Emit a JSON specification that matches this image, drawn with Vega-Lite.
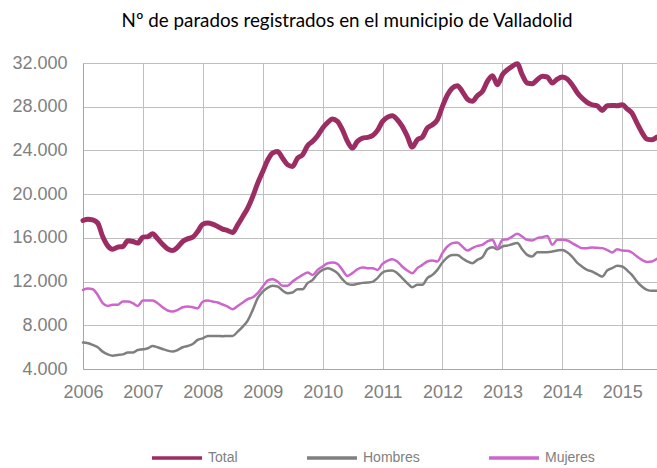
{
  "$schema": "https://vega.github.io/schema/vega-lite/v6.json",
  "width": 574,
  "height": 306,
  "autosize": {"type": "none"},
  "padding": {"left": 83, "top": 63, "right": 0, "bottom": 99},
  "background": "white",
  "title": {
    "text": "Nº de parados registrados en el municipio de Valladolid",
    "font": "Lato",
    "fontSize": 18.8,
    "fontWeight": "normal",
    "color": "#000000",
    "anchor": "middle",
    "dx": -23,
    "offset": 23
  },
  "datasets": {
    "paro": [
      {"fecha": "2006-01-01", "Total": 17590, "Hombres": 6420, "Mujeres": 11240},
      {"fecha": "2006-02-01", "Total": 17710, "Hombres": 6350, "Mujeres": 11360},
      {"fecha": "2006-03-01", "Total": 17650, "Hombres": 6200, "Mujeres": 11300},
      {"fecha": "2006-04-01", "Total": 17350, "Hombres": 5990, "Mujeres": 10780},
      {"fecha": "2006-05-01", "Total": 16120, "Hombres": 5590, "Mujeres": 10020},
      {"fecha": "2006-06-01", "Total": 15270, "Hombres": 5340, "Mujeres": 9770},
      {"fecha": "2006-07-01", "Total": 14960, "Hombres": 5220, "Mujeres": 9870},
      {"fecha": "2006-08-01", "Total": 15150, "Hombres": 5280, "Mujeres": 9870},
      {"fecha": "2006-09-01", "Total": 15210, "Hombres": 5340, "Mujeres": 10170},
      {"fecha": "2006-10-01", "Total": 15730, "Hombres": 5500, "Mujeres": 10170},
      {"fecha": "2006-11-01", "Total": 15670, "Hombres": 5500, "Mujeres": 10020},
      {"fecha": "2006-12-01", "Total": 15520, "Hombres": 5740, "Mujeres": 9770},
      {"fecha": "2007-01-01", "Total": 16060, "Hombres": 5800, "Mujeres": 10260},
      {"fecha": "2007-02-01", "Total": 16120, "Hombres": 5900, "Mujeres": 10260},
      {"fecha": "2007-03-01", "Total": 16370, "Hombres": 6110, "Mujeres": 10260},
      {"fecha": "2007-04-01", "Total": 15910, "Hombres": 5990, "Mujeres": 10020},
      {"fecha": "2007-05-01", "Total": 15420, "Hombres": 5830, "Mujeres": 9650},
      {"fecha": "2007-06-01", "Total": 14990, "Hombres": 5680, "Mujeres": 9350},
      {"fecha": "2007-07-01", "Total": 14840, "Hombres": 5590, "Mujeres": 9260},
      {"fecha": "2007-08-01", "Total": 15150, "Hombres": 5740, "Mujeres": 9410},
      {"fecha": "2007-09-01", "Total": 15670, "Hombres": 5990, "Mujeres": 9650},
      {"fecha": "2007-10-01", "Total": 15910, "Hombres": 6110, "Mujeres": 9710},
      {"fecha": "2007-11-01", "Total": 16060, "Hombres": 6290, "Mujeres": 9650},
      {"fecha": "2007-12-01", "Total": 16580, "Hombres": 6660, "Mujeres": 9560},
      {"fecha": "2008-01-01", "Total": 17250, "Hombres": 6810, "Mujeres": 10170},
      {"fecha": "2008-02-01", "Total": 17350, "Hombres": 7030, "Mujeres": 10260},
      {"fecha": "2008-03-01", "Total": 17250, "Hombres": 7030, "Mujeres": 10170},
      {"fecha": "2008-04-01", "Total": 17040, "Hombres": 7030, "Mujeres": 10080},
      {"fecha": "2008-05-01", "Total": 16800, "Hombres": 7000, "Mujeres": 9900},
      {"fecha": "2008-06-01", "Total": 16670, "Hombres": 7030, "Mujeres": 9710},
      {"fecha": "2008-07-01", "Total": 16490, "Hombres": 7030, "Mujeres": 9470},
      {"fecha": "2008-08-01", "Total": 17190, "Hombres": 7420, "Mujeres": 9770},
      {"fecha": "2008-09-01", "Total": 17960, "Hombres": 7880, "Mujeres": 10080},
      {"fecha": "2008-10-01", "Total": 18720, "Hombres": 8430, "Mujeres": 10390},
      {"fecha": "2008-11-01", "Total": 19790, "Hombres": 9410, "Mujeres": 10570},
      {"fecha": "2008-12-01", "Total": 21010, "Hombres": 10480, "Mujeres": 10940},
      {"fecha": "2009-01-01", "Total": 22080, "Hombres": 11090, "Mujeres": 11550},
      {"fecha": "2009-02-01", "Total": 23150, "Hombres": 11450, "Mujeres": 12110},
      {"fecha": "2009-03-01", "Total": 23760, "Hombres": 11610, "Mujeres": 12220},
      {"fecha": "2009-04-01", "Total": 23910, "Hombres": 11550, "Mujeres": 12010},
      {"fecha": "2009-05-01", "Total": 23300, "Hombres": 11180, "Mujeres": 11610},
      {"fecha": "2009-06-01", "Total": 22690, "Hombres": 10940, "Mujeres": 11610},
      {"fecha": "2009-07-01", "Total": 22540, "Hombres": 11000, "Mujeres": 12010},
      {"fecha": "2009-08-01", "Total": 23300, "Hombres": 11300, "Mujeres": 12320},
      {"fecha": "2009-09-01", "Total": 23610, "Hombres": 11300, "Mujeres": 12610},
      {"fecha": "2009-10-01", "Total": 24430, "Hombres": 11850, "Mujeres": 12830},
      {"fecha": "2009-11-01", "Total": 24830, "Hombres": 12160, "Mujeres": 12610},
      {"fecha": "2009-12-01", "Total": 25350, "Hombres": 12710, "Mujeres": 13070},
      {"fecha": "2010-01-01", "Total": 26050, "Hombres": 13070, "Mujeres": 13380},
      {"fecha": "2010-02-01", "Total": 26570, "Hombres": 13230, "Mujeres": 13680},
      {"fecha": "2010-03-01", "Total": 26870, "Hombres": 13070, "Mujeres": 13740},
      {"fecha": "2010-04-01", "Total": 26660, "Hombres": 12770, "Mujeres": 13620},
      {"fecha": "2010-05-01", "Total": 25900, "Hombres": 12220, "Mujeres": 13070},
      {"fecha": "2010-06-01", "Total": 24830, "Hombres": 11790, "Mujeres": 12520},
      {"fecha": "2010-07-01", "Total": 24220, "Hombres": 11700, "Mujeres": 12770},
      {"fecha": "2010-08-01", "Total": 24830, "Hombres": 11790, "Mujeres": 13130},
      {"fecha": "2010-09-01", "Total": 25130, "Hombres": 11880, "Mujeres": 13280},
      {"fecha": "2010-10-01", "Total": 25200, "Hombres": 11910, "Mujeres": 13230},
      {"fecha": "2010-11-01", "Total": 25350, "Hombres": 11970, "Mujeres": 13230},
      {"fecha": "2010-12-01", "Total": 25830, "Hombres": 12320, "Mujeres": 13070},
      {"fecha": "2011-01-01", "Total": 26660, "Hombres": 12830, "Mujeres": 13620},
      {"fecha": "2011-02-01", "Total": 27050, "Hombres": 12990, "Mujeres": 13900},
      {"fecha": "2011-03-01", "Total": 27180, "Hombres": 13020, "Mujeres": 14050},
      {"fecha": "2011-04-01", "Total": 26810, "Hombres": 12770, "Mujeres": 13840},
      {"fecha": "2011-05-01", "Total": 26200, "Hombres": 12320, "Mujeres": 13380},
      {"fecha": "2011-06-01", "Total": 25290, "Hombres": 11850, "Mujeres": 13010},
      {"fecha": "2011-07-01", "Total": 24310, "Hombres": 11480, "Mujeres": 12770},
      {"fecha": "2011-08-01", "Total": 24980, "Hombres": 11700, "Mujeres": 13230},
      {"fecha": "2011-09-01", "Total": 25230, "Hombres": 11700, "Mujeres": 13530},
      {"fecha": "2011-10-01", "Total": 26050, "Hombres": 12320, "Mujeres": 13840},
      {"fecha": "2011-11-01", "Total": 26350, "Hombres": 12610, "Mujeres": 13930},
      {"fecha": "2011-12-01", "Total": 26810, "Hombres": 13070, "Mujeres": 13840},
      {"fecha": "2012-01-01", "Total": 28030, "Hombres": 13740, "Mujeres": 14600},
      {"fecha": "2012-02-01", "Total": 29100, "Hombres": 14230, "Mujeres": 15210},
      {"fecha": "2012-03-01", "Total": 29710, "Hombres": 14440, "Mujeres": 15520},
      {"fecha": "2012-04-01", "Total": 29920, "Hombres": 14440, "Mujeres": 15580},
      {"fecha": "2012-05-01", "Total": 29400, "Hombres": 14140, "Mujeres": 15210},
      {"fecha": "2012-06-01", "Total": 28700, "Hombres": 13840, "Mujeres": 14840},
      {"fecha": "2012-07-01", "Total": 28490, "Hombres": 13680, "Mujeres": 15060},
      {"fecha": "2012-08-01", "Total": 29010, "Hombres": 13990, "Mujeres": 15270},
      {"fecha": "2012-09-01", "Total": 29400, "Hombres": 14230, "Mujeres": 15360},
      {"fecha": "2012-10-01", "Total": 30320, "Hombres": 14960, "Mujeres": 15670},
      {"fecha": "2012-11-01", "Total": 30840, "Hombres": 15150, "Mujeres": 15820},
      {"fecha": "2012-12-01", "Total": 30010, "Hombres": 14960, "Mujeres": 15060},
      {"fecha": "2013-01-01", "Total": 30930, "Hombres": 15210, "Mujeres": 15820},
      {"fecha": "2013-02-01", "Total": 31390, "Hombres": 15300, "Mujeres": 15880},
      {"fecha": "2013-03-01", "Total": 31700, "Hombres": 15420, "Mujeres": 16120},
      {"fecha": "2013-04-01", "Total": 31940, "Hombres": 15520, "Mujeres": 16370},
      {"fecha": "2013-05-01", "Total": 30930, "Hombres": 14960, "Mujeres": 16120},
      {"fecha": "2013-06-01", "Total": 30170, "Hombres": 14440, "Mujeres": 15820},
      {"fecha": "2013-07-01", "Total": 30110, "Hombres": 14290, "Mujeres": 15760},
      {"fecha": "2013-08-01", "Total": 30470, "Hombres": 14690, "Mujeres": 15970},
      {"fecha": "2013-09-01", "Total": 30780, "Hombres": 14690, "Mujeres": 16060},
      {"fecha": "2013-10-01", "Total": 30720, "Hombres": 14690, "Mujeres": 16180},
      {"fecha": "2013-11-01", "Total": 30170, "Hombres": 14750, "Mujeres": 15360},
      {"fecha": "2013-12-01", "Total": 30530, "Hombres": 14840, "Mujeres": 15820},
      {"fecha": "2014-01-01", "Total": 30720, "Hombres": 14900, "Mujeres": 15820},
      {"fecha": "2014-02-01", "Total": 30530, "Hombres": 14660, "Mujeres": 15760},
      {"fecha": "2014-03-01", "Total": 30020, "Hombres": 14290, "Mujeres": 15520},
      {"fecha": "2014-04-01", "Total": 29310, "Hombres": 13740, "Mujeres": 15270},
      {"fecha": "2014-05-01", "Total": 28790, "Hombres": 13380, "Mujeres": 15060},
      {"fecha": "2014-06-01", "Total": 28400, "Hombres": 13070, "Mujeres": 15060},
      {"fecha": "2014-07-01", "Total": 28180, "Hombres": 12920, "Mujeres": 15120},
      {"fecha": "2014-08-01", "Total": 28090, "Hombres": 12680, "Mujeres": 15090},
      {"fecha": "2014-09-01", "Total": 27660, "Hombres": 12460, "Mujeres": 15060},
      {"fecha": "2014-10-01", "Total": 28090, "Hombres": 13010, "Mujeres": 14900},
      {"fecha": "2014-11-01", "Total": 28120, "Hombres": 13230, "Mujeres": 14660},
      {"fecha": "2014-12-01", "Total": 28090, "Hombres": 13440, "Mujeres": 14960},
      {"fecha": "2015-01-01", "Total": 28180, "Hombres": 13380, "Mujeres": 14840},
      {"fecha": "2015-02-01", "Total": 27790, "Hombres": 13010, "Mujeres": 14810},
      {"fecha": "2015-03-01", "Total": 27420, "Hombres": 12610, "Mujeres": 14660},
      {"fecha": "2015-04-01", "Total": 26500, "Hombres": 12000, "Mujeres": 14290},
      {"fecha": "2015-05-01", "Total": 25650, "Hombres": 11550, "Mujeres": 13990},
      {"fecha": "2015-06-01", "Total": 25040, "Hombres": 11240, "Mujeres": 13800},
      {"fecha": "2015-07-01", "Total": 24980, "Hombres": 11150, "Mujeres": 13840},
      {"fecha": "2015-08-01", "Total": 25220, "Hombres": 11150, "Mujeres": 14080}
    ]
  },
  "data": {"name": "paro"},
  "transform": [
    {"fold": ["Total", "Hombres", "Mujeres"], "as": ["serie", "valor"]}
  ],
  "mark": {"type": "line", "interpolate": "monotone", "strokeCap": "round", "strokeJoin": "round"},
  "encoding": {
    "x": {
      "field": "fecha",
      "type": "temporal",
      "scale": {"type": "utc", "domain": ["2006-01-01", "2015-08-01"]},
      "axis": {
        "title": null,
        "format": "%Y",
        "formatType": "utc",
        "tickCount": 10,
        "grid": true,
        "gridColor": "#bfbfbf",
        "gridWidth": 1,
        "domainColor": "#a6a6a6",
        "domainWidth": 1,
        "ticks": false,
        "labelPadding": 14,
        "labelFont": "Liberation Sans",
        "labelFontSize": 18,
        "labelColor": "#808080",
        "labelOverlap": false,
        "labelFlush": false
      }
    },
    "y": {
      "field": "valor",
      "type": "quantitative",
      "scale": {"domain": [4000, 32000], "nice": false, "zero": false},
      "axis": {
        "title": null,
        "values": [4000, 8000, 12000, 16000, 20000, 24000, 28000, 32000],
        "labelExpr": "replace(format(datum.value, ','), ',', '.')",
        "grid": true,
        "gridColor": "#bfbfbf",
        "gridWidth": 1,
        "domainColor": "#a6a6a6",
        "domainWidth": 1,
        "ticks": false,
        "labelPadding": 16,
        "labelFont": "Liberation Sans",
        "labelFontSize": 18,
        "labelColor": "#808080"
      }
    },
    "color": {
      "field": "serie",
      "type": "nominal",
      "sort": ["Total", "Hombres", "Mujeres"],
      "scale": {"domain": ["Total", "Hombres", "Mujeres"], "range": ["#9b2d62", "#7f7f7f", "#cc66cc"]},
      "legend": {
        "title": null,
        "orient": "none",
        "direction": "horizontal",
        "legendX": 67,
        "legendY": 368,
        "symbolType": "stroke",
        "symbolSize": 2500,
        "columnPadding": 62,
        "labelOffset": 4,
        "labelFont": "Liberation Sans",
        "labelFontSize": 14,
        "labelColor": "#808080",
        "symbolStrokeWidth": 3.5
      }
    },
    "strokeWidth": {
      "condition": {"test": "datum.serie === 'Total'", "value": 5},
      "value": 2.5
    }
  }
}
